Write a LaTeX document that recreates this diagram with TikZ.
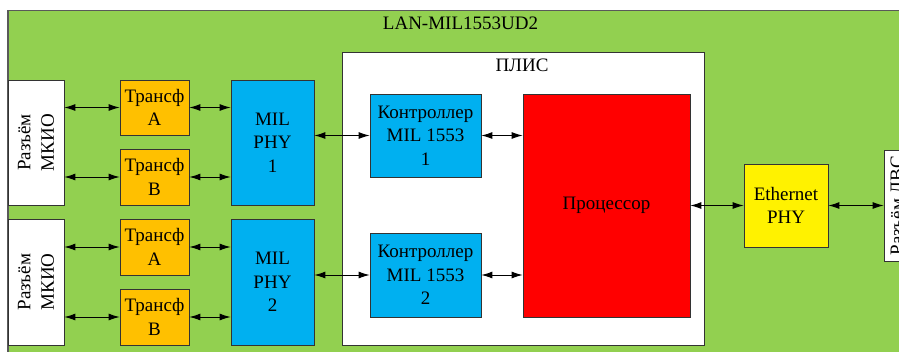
\documentclass[tikz,border=0pt]{standalone}
\usepackage{fontspec}
\setmainfont{Liberation Serif}
\newfontfamily\diagfont{Liberation Serif}
\usepackage{xcolor}
\usepackage{tikz}
\usetikzlibrary{arrows.meta, positioning}

\definecolor{boardgreen}{RGB}{146,208,80}
\definecolor{trorange}{RGB}{255,192,0}
\definecolor{phyblue}{RGB}{0,176,240}

\begin{document}
\begin{tikzpicture}[x=1pt, y=-1pt, >={Latex[length=11pt, width=7pt]},
        every node/.style={font=\diagfont\fontsize{19}{23.5}\selectfont},
        blk/.style={rectangle, draw=black!80, line width=0.7pt, align=center, inner sep=1pt},
        conn/.style={blk, fill=white, rotate=90, minimum width=125pt, minimum height=56pt},
        trans/.style={blk, fill=trorange, minimum width=69pt, minimum height=55pt},
        phy/.style={blk, fill=phyblue, minimum width=83pt, minimum height=125pt},
        ctrl/.style={blk, fill=phyblue, minimum width=111pt, minimum height=83pt},
        link/.style={<->, line width=1pt}]

        \useasboundingbox (0,0) rectangle (899,351);
        \clip (0,0) rectangle (899,351);
        \fill[white] (0,0) rectangle (899,351);

        % Board
        \draw[fill=boardgreen, draw=black!65, line width=1.2pt] (8,10.5) rectangle (930,370);
        \node (board) at (460.5,23) {LAN-MIL1553UD2};
        \node[blk, fill=white, minimum width=362pt, minimum height=293pt] (fpga) at (523,198.5) {};
        \node (fpgaLbl) at (522,65.5) {ПЛИС};

        % Nodes
        \node[conn] (conA) at (36,142.5) {Разъём\\МКИО};
        \node[conn, minimum width=126pt] (conB) at (36,282) {Разъём\\МКИО};
        \node[trans] (trAa) at (154.5,107.5) {Трансф\\A};
        \node[trans, minimum height=56pt] (trAb) at (154.5,177) {Трансф\\B};
        \node[trans, minimum height=56pt] (trBa) at (154.5,247) {Трансф\\A};
        \node[trans, minimum height=56pt] (trBb) at (154.5,317) {Трансф\\B};
        \node[phy] (phyA) at (272.5,142.5) {MIL\\PHY\\1};
        \node[phy, minimum height=126pt] (phyB) at (272.5,282) {MIL\\PHY\\2};
        \node[ctrl] (ctrlA) at (425.5,135.5) {Контроллер\\MIL 1553\\1};
        \node[ctrl, minimum height=84pt] (ctrlB) at (425.5,275) {Контроллер\\MIL 1553\\2};
        \node[blk, fill=red, minimum width=167pt, minimum height=223pt] (cpu) at (606.5,205.5) {Процессор};
        \node[blk, fill=yellow, minimum width=84pt, minimum height=83pt] (eth) at (786,205.5) {Ethernet\\PHY};
        \node[blk, fill=white, rotate=90, minimum width=111pt, minimum height=26pt] (lan) at (897,205.5) {Разъём ЛВС};

        % Edges
        \draw[link] (trAa.west -| conA.south) -- (trAa.west);
        \draw[link] (trAb.west -| conA.south) -- (trAb.west);
        \draw[link] (trBa.west -| conB.south) -- (trBa.west);
        \draw[link] (trBb.west -| conB.south) -- (trBb.west);
        \draw[link] (trAa.east) -- (trAa.east -| phyA.west);
        \draw[link] (trAb.east) -- (trAb.east -| phyA.west);
        \draw[link] (trBa.east) -- (trBa.east -| phyB.west);
        \draw[link] (trBb.east) -- (trBb.east -| phyB.west);
        \draw[link] (ctrlA.west -| phyA.east) -- (ctrlA.west);
        \draw[link] (ctrlB.west -| phyB.east) -- (ctrlB.west);
        \draw[link] (ctrlA.east) -- (ctrlA.east -| cpu.west);
        \draw[link] (ctrlB.east) -- (ctrlB.east -| cpu.west);
        \draw[link] (eth.west -| cpu.east) -- (eth.west);
        \draw[link] (eth.east) -- (eth.east -| lan.north);
    \end{tikzpicture}
\end{document}
